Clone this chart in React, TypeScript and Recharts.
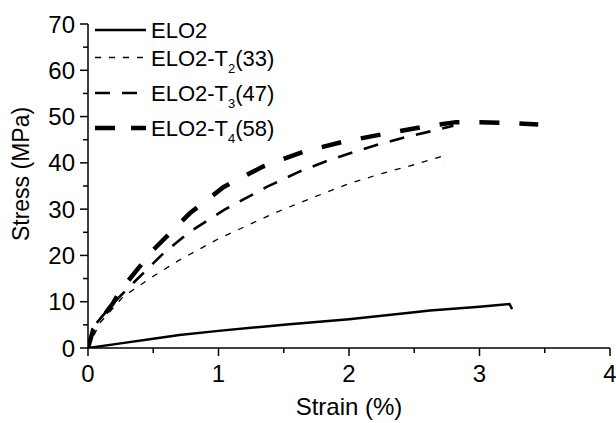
import React from "react";
import { LineChart, Line, XAxis, YAxis } from "recharts";

// strain (%) / stress (MPa)
const elo2Strain = [0, 0.25, 0.5, 0.7, 1, 1.34, 1.5, 2, 2.5, 2.62, 3, 3.23, 3.25];
const elo2Stress = [0, 1.0, 2.0, 2.8, 3.7, 4.6, 5.0, 6.2, 7.7, 8.1, 8.9, 9.5, 8.4];

const t2Strain = [0, 0.09, 0.27, 0.5, 0.7, 1, 1.3, 1.5, 1.75, 2, 2.25, 2.5, 2.7, 2.72];
const t2Stress = [0, 5.4, 11.1, 15.5, 19.0, 23.6, 27.5, 30.0, 32.8, 35.5, 37.7, 39.6, 41.3, 39.5];

const t3Strain = [0, 0.04, 0.19, 0.37, 0.58, 0.78, 1.04, 1.37, 1.62, 1.83, 2.03, 2.24, 2.44, 2.67, 2.8];
const t3Stress = [0, 4.5, 9.6, 14.7, 20.5, 25.1, 29.8, 34.8, 38.1, 40.4, 42.3, 44.1, 45.6, 47.1, 48.0];

const t4Strain = [0, 0.04, 0.19, 0.25, 0.5, 0.78, 1.04, 1.34, 1.65, 1.96, 2.26, 2.57, 2.82, 3.0, 3.25, 3.45];
const t4Stress = [0, 4.0, 9.6, 12.5, 21.2, 29.1, 34.8, 39.2, 42.4, 44.6, 46.2, 47.8, 48.8, 48.8, 48.6, 48.3];

const xTicks = [0, 0.5, 1, 1.5, 2, 2.5, 3, 3.5, 4];
const yTicks = [0, 5, 10, 15, 20, 25, 30, 35, 40, 45, 50, 55, 60, 65, 70];

const legendNames = ["ELO2", "ELO2-T", "ELO2-T", "ELO2-T"];
const legendSubs = ["", "2", "3", "4"];
const legendTails = ["", "(33)", "(47)", "(58)"];

const toRows = (xs: number[], ys: number[]) => xs.map((x, i) => ({ strain: x, stress: ys[i] }));

const series = [
  { data: toRows(elo2Strain, elo2Stress), width: 2.5, dash: undefined as string | undefined, legendEnd: 146 },
  { data: toRows(t2Strain, t2Stress), width: 1.3, dash: "6 8", legendEnd: 146 },
  { data: toRows(t3Strain, t3Stress), width: 2.6, dash: "15 12", legendEnd: 138 },
  { data: toRows(t4Strain, t4Stress), width: 4.5, dash: "20 20", legendEnd: 146 },
];

const legendY = [30, 57.5, 93, 128];

const font = "'Liberation Sans', Arial, sans-serif";

const XTick = (props: any) => {
  const { x, y, payload } = props;
  const major = Number.isInteger(payload.value);
  return (
    <g>
      <line x1={x} y1={y} x2={x} y2={y + (major ? 8 : 5)} stroke="#000" strokeWidth={1.5} />
      {major && (
        <text x={x} y={y + 34} textAnchor="middle" fontSize={24} fontFamily={font} fill="#000">
          {payload.value}
        </text>
      )}
    </g>
  );
};

const YTick = (props: any) => {
  const { x, y, payload } = props;
  const major = payload.value % 10 === 0;
  return (
    <g>
      <line x1={x} y1={y} x2={x - (major ? 8 : 5)} y2={y} stroke="#000" strokeWidth={1.5} />
      {major && (
        <text x={x - 13} y={y + 8.5} textAnchor="end" fontSize={24} fontFamily={font} fill="#000">
          {payload.value}
        </text>
      )}
    </g>
  );
};

const App = () => {
  return (
    <div style={{ position: "absolute", left: 0, top: 0, width: 616, height: 423, background: "#fff" }}>
      <LineChart width={616} height={423} margin={{ top: 24, right: 6, bottom: 0, left: 0 }}>
        <XAxis
          type="number"
          dataKey="strain"
          domain={[0, 4]}
          ticks={xTicks}
          interval={0}
          height={75}
          tickSize={0}
          tickMargin={0}
          tick={<XTick />}
          axisLine={{ stroke: "#000", strokeWidth: 1.5 }}
          allowDataOverflow
          label={{
            content: (p: any) => (
              <text
                x={p.viewBox.x + p.viewBox.width / 2}
                y={p.viewBox.y + 67}
                textAnchor="middle"
                fontSize={24}
                fontFamily={font}
                fill="#000"
              >
                Strain (%)
              </text>
            ),
          }}
        />
        <YAxis
          type="number"
          dataKey="stress"
          domain={[0, 70]}
          ticks={yTicks}
          interval={0}
          width={88}
          tickSize={0}
          tickMargin={0}
          tick={<YTick />}
          axisLine={{ stroke: "#000", strokeWidth: 1.5 }}
          allowDataOverflow
          label={{
            content: () => (
              <text
                x={29}
                y={174}
                transform="rotate(-90 29 174)"
                textAnchor="middle"
                fontSize={23}
                fontFamily={font}
                fill="#000"
              >
                Stress (MPa)
              </text>
            ),
          }}
        />
        {series.map((s, i) => (
          <Line
            key={i}
            data={s.data}
            dataKey="stress"
            type="linear"
            stroke="#000"
            strokeWidth={s.width}
            strokeDasharray={s.dash}
            dot={false}
            activeDot={false}
            isAnimationActive={false}
          />
        ))}
      </LineChart>
      <svg width={616} height={423} style={{ position: "absolute", left: 0, top: 0, pointerEvents: "none" }}>
        {series.map((s, i) => (
          <g key={i}>
            <line
              x1={95}
              y1={legendY[i]}
              x2={s.legendEnd}
              y2={legendY[i]}
              stroke="#000"
              strokeWidth={s.width}
              strokeDasharray={s.dash === "20 20" ? "20 16" : s.dash}
            />
            <text x={151} y={legendY[i] + 8} fontSize={22} fontFamily={font} fill="#000">
              {legendNames[i]}
              {legendSubs[i] && (
                <tspan fontSize={13} dy={7}>
                  {legendSubs[i]}
                </tspan>
              )}
              {legendTails[i] && <tspan dy={legendSubs[i] ? -7 : 0}>{legendTails[i]}</tspan>}
            </text>
          </g>
        ))}
      </svg>
    </div>
  );
};

export default App;
